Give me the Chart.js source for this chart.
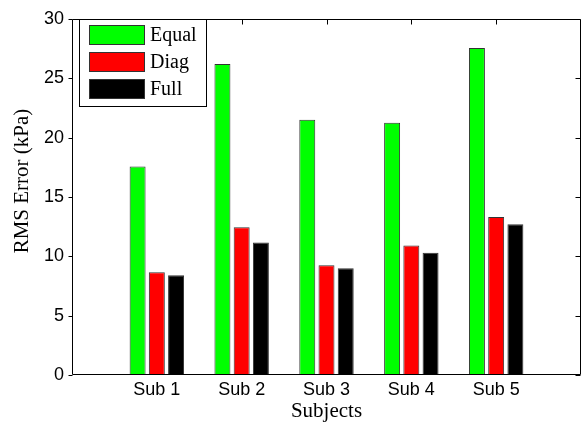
<!DOCTYPE html>
<html>
<head>
<meta charset="utf-8">
<script src="https://cdn.jsdelivr.net/npm/chart.js@4/dist/chart.umd.min.js"></script>
<style>
  html, body { margin: 0; padding: 0; background: #fff; }
  #wrap { width: 588px; height: 428px; }
</style>
</head>
<body>
<div id="wrap"><canvas id="c" width="588" height="428"></canvas></div>
<script>
// RMS error per subject for the three covariance models
const subjects = ['Sub 1', 'Sub 2', 'Sub 3', 'Sub 4', 'Sub 5'];
const equalErr = [17.55, 26.2, 21.5, 21.25, 27.55];
const diagErr  = [8.65, 12.45, 9.25, 10.9, 13.3];
const fullErr  = [8.4, 11.15, 9.0, 10.3, 12.7];
const yTicks = [0, 5, 10, 15, 20, 25, 30];

const xTitle = 'Subjects';
const yTitle = 'RMS Error (kPa)';

const SANS = '"Liberation Sans", Arial, sans-serif';
const SERIF = '"Liberation Serif", "Times New Roman", serif';

// subjects sit at x = 1..5 on a 0..6 axis
const toPoints = arr => arr.map((v, i) => ({ x: i + 1, y: v }));

function series(label, values, color) {
  return {
    label,
    data: toPoints(values),
    backgroundColor: color,
    borderColor: '#333333',
    borderWidth: 1,
    borderSkipped: false,
    categoryPercentage: 0.68,
    barPercentage: 0.83
  };
}

// frame, tick marks, axis titles and boxed legend
const framePlugin = {
  id: 'frame',
  beforeDatasetsDraw(chart) {
    const { ctx, chartArea: a, scales: { x } } = chart;
    ctx.save();
    ctx.strokeStyle = '#000';
    ctx.lineWidth = 1;
    ctx.beginPath();
    subjects.forEach((_, i) => {
      const px = Math.round(x.getPixelForValue(i + 1)) + 0.5;
      ctx.moveTo(px, a.bottom);
      ctx.lineTo(px, a.bottom - 5);
    });
    ctx.stroke();
    ctx.restore();
  },
  afterDatasetsDraw(chart) {
    const { ctx, chartArea: a, scales: { x, y } } = chart;
    const L = Math.round(a.left) + 0.5, R = Math.round(a.right) - 0.5;
    const T = Math.round(a.top) + 0.5, B = Math.round(a.bottom) - 0.5;
    ctx.save();
    ctx.strokeStyle = '#000';
    ctx.lineWidth = 1;
    ctx.beginPath();
    ctx.rect(L, T, R - L, B - T);
    // y ticks: outward on the left, inward on the right
    yTicks.forEach(v => {
      const py = Math.round(y.getPixelForValue(v)) + 0.5;
      ctx.moveTo(L - 4, py); ctx.lineTo(L, py);
      ctx.moveTo(R, py); ctx.lineTo(R - 5, py);
    });
    // x ticks along the top edge
    subjects.forEach((_, i) => {
      const px = Math.round(x.getPixelForValue(i + 1)) + 0.5;
      ctx.moveTo(px, T); ctx.lineTo(px, T + 5);
    });
    ctx.stroke();

    // axis titles
    ctx.fillStyle = '#000';
    ctx.font = '21px ' + SERIF;
    ctx.textAlign = 'center';
    ctx.textBaseline = 'middle';
    ctx.fillText(xTitle, (a.left + a.right) / 2, 411);
    ctx.save();
    ctx.translate(22, 181);
    ctx.rotate(-Math.PI / 2);
    ctx.fillText(yTitle, 0, 0);
    ctx.restore();

    // legend box
    const lx = 79.5, ly = 19.5, lw = 127, lh = 87;
    ctx.fillStyle = '#fff';
    ctx.fillRect(lx, ly, lw, lh);
    ctx.strokeStyle = '#000';
    ctx.strokeRect(lx, ly, lw, lh);
    ctx.font = '20px ' + SERIF;
    ctx.textAlign = 'left';
    chart.data.datasets.forEach((ds, i) => {
      const sy = 25 + i * 27;
      ctx.fillStyle = ds.backgroundColor;
      ctx.fillRect(89.5, sy + 0.5, 55, 19);
      ctx.strokeStyle = '#333333';
      ctx.strokeRect(89.5, sy + 0.5, 55, 19);
      ctx.fillStyle = '#000';
      ctx.fillText(ds.label, 150, sy + 11);
    });
    ctx.restore();
  }
};

new Chart(document.getElementById('c'), {
  type: 'bar',
  data: {
    datasets: [
      series('Equal', equalErr, '#00ff00'),
      series('Diag', diagErr, '#ff0000'),
      series('Full', fullErr, '#000000')
    ]
  },
  options: {
    responsive: false,
    animation: false,
    layout: { padding: { top: 12, right: 7, left: 0, bottom: 0 } },
    plugins: { legend: { display: false }, tooltip: { enabled: false } },
    scales: {
      x: {
        type: 'linear',
        min: 0,
        max: 6,
        offset: false,
        grid: { display: false, drawTicks: false },
        border: { display: false },
        afterFit(s) { s.height = 53; },
        afterBuildTicks(s) { s.ticks = subjects.map((_, i) => ({ value: i + 1 })); },
        ticks: {
          padding: 4,
          color: '#000',
          font: { family: SANS, size: 18 },
          callback: v => subjects[v - 1] || ''
        }
      },
      y: {
        min: 0,
        max: 30,
        grid: { display: false, drawTicks: false },
        border: { display: false },
        afterFit(s) { s.width = 72; },
        afterBuildTicks(s) { s.ticks = yTicks.map(v => ({ value: v })); },
        ticks: {
          padding: 8,
          color: '#000',
          font: { family: SANS, size: 18 }
        }
      }
    }
  },
  plugins: [framePlugin]
});
</script>
</body>
</html>
